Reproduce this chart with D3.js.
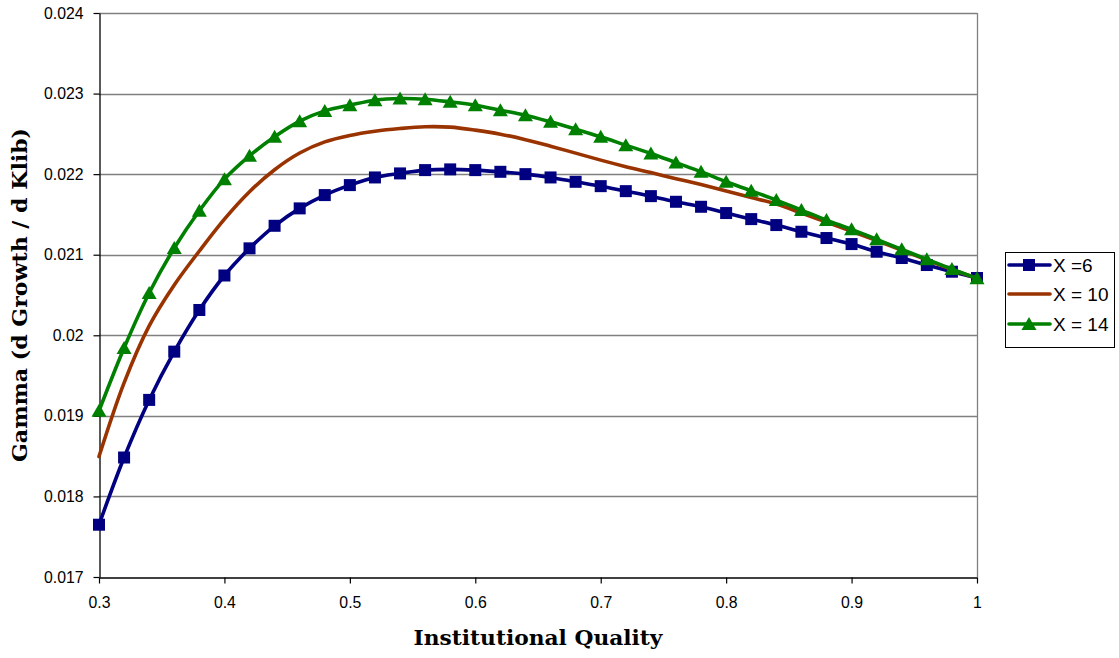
<!DOCTYPE html>
<html>
<head>
<meta charset="utf-8">
<script src="https://cdn.jsdelivr.net/npm/d3@7"></script>
<style>
  html, body { margin: 0; padding: 0; background: #fff; }
  svg { display: block; }
</style>
</head>
<body>
<svg id="chart" width="1119" height="658"></svg>
<script>
// ---- data ----
const quality = [0.30,0.32,0.34,0.36,0.38,0.40,0.42,0.44,0.46,0.48,0.50,0.52,0.54,0.56,0.58,0.60,0.62,0.64,0.66,0.68,0.70,0.72,0.74,0.76,0.78,0.80,0.82,0.84,0.86,0.88,0.90,0.92,0.94,0.96,0.98,1.00];
const gammaX6 = [0.017649,0.018483,0.019198,0.019797,0.020314,0.020742,0.021079,0.021359,0.021575,0.021740,0.021864,0.021959,0.022009,0.022050,0.022059,0.022050,0.022029,0.022000,0.021959,0.021905,0.021851,0.021789,0.021727,0.021657,0.021595,0.021517,0.021442,0.021368,0.021285,0.021207,0.021132,0.021037,0.020959,0.020872,0.020789,0.020711];
const gammaX10 = [0.018495,0.019409,0.020116,0.020624,0.021046,0.021442,0.021782,0.022055,0.022262,0.022400,0.022480,0.022532,0.022566,0.022588,0.022583,0.022546,0.022496,0.022428,0.022347,0.022261,0.022174,0.022093,0.022019,0.021944,0.021870,0.021792,0.021711,0.021628,0.021518,0.021404,0.021290,0.021176,0.021057,0.020936,0.020816,0.020707];
const gammaX14 = [0.019062,0.019843,0.020525,0.021083,0.021545,0.021938,0.022227,0.022463,0.022657,0.022785,0.022856,0.022918,0.022939,0.022930,0.022897,0.022856,0.022794,0.022732,0.022649,0.022558,0.022463,0.022360,0.022257,0.022143,0.022029,0.021905,0.021793,0.021678,0.021554,0.021430,0.021315,0.021191,0.021067,0.020943,0.020822,0.020707];
const seriesNames = ["X =6", "X = 10", "X = 14"];
const xTicks = [0.3,0.4,0.5,0.6,0.7,0.8,0.9,1];
const yTicks = [0.017,0.018,0.019,0.020,0.021,0.022,0.023,0.024];
const xTitle = "Institutional Quality";
const yTitle = "Gamma (d Growth / d Klib)";

// ---- layout ----
const svg = d3.select("#chart");
const L = 99, R = 977, T = 13, B = 577;
const x = d3.scaleLinear().domain([0.3, 1.0]).range([L, R]);
const y = d3.scaleLinear().domain([0.017, 0.024]).range([B, T]);

// gridlines
svg.append("g").selectAll("line").data(yTicks.filter(d => d > 0.017)).join("line")
  .attr("x1", L).attr("x2", R)
  .attr("y1", d => Math.round(y(d)) + 0.5).attr("y2", d => Math.round(y(d)) + 0.5)
  .attr("stroke", "#808080").attr("stroke-width", 1.3);
// right border
svg.append("line").attr("x1", R + 0.5).attr("x2", R + 0.5).attr("y1", T).attr("y2", B)
  .attr("stroke", "#808080").attr("stroke-width", 1.3);

// axes
const fmtY = d => d3.format(".3~f")(d);
const yAxis = svg.append("g").attr("transform", `translate(${L + 0.5},0)`)
  .call(d3.axisLeft(y).tickValues(yTicks).tickFormat(fmtY).tickSize(6).tickPadding(10).tickSizeOuter(0));
const xAxis = svg.append("g").attr("transform", `translate(0,${B + 0.5})`)
  .call(d3.axisBottom(x).tickValues(xTicks).tickFormat(d => d3.format("~g")(d)).tickSize(6).tickPadding(13).tickSizeOuter(0));
[yAxis, xAxis].forEach(g => {
  g.select(".domain").attr("stroke", "#000").attr("stroke-width", 1.3);
  g.selectAll(".tick line").attr("stroke", "#000").attr("stroke-width", 1.2);
  g.selectAll(".tick text").attr("fill", "#000")
    .style("font-family", "'Liberation Sans', Arial, sans-serif").style("font-size", "15.8px");
});

// series
const colors = ["#000080", "#993300", "#008000"];
const data = [gammaX6, gammaX10, gammaX14];
const line = d3.line().x((d, i) => x(quality[i])).y(d => y(d)).curve(d3.curveCatmullRom.alpha(0.5));
data.forEach((s, k) => {
  svg.append("path").datum(s).attr("d", line)
    .attr("fill", "none").attr("stroke", colors[k]).attr("stroke-width", 3.6)
    .attr("stroke-linejoin", "round").attr("stroke-linecap", "round");
  if (k === 0) {
    svg.append("g").selectAll("rect").data(s).join("rect")
      .attr("x", (d, i) => x(quality[i]) - 6).attr("y", d => y(d) - 6)
      .attr("width", 12).attr("height", 12).attr("fill", colors[k]);
  } else if (k === 2) {
    svg.append("g").selectAll("path").data(s).join("path")
      .attr("transform", (d, i) => `translate(${x(quality[i])},${y(d)})`)
      .attr("d", "M0,-7 L7.5,6 L-7.5,6 Z").attr("fill", colors[k]);
  }
});

// legend
const lg = svg.append("g");
lg.append("rect").attr("x", 1005.5).attr("y", 252.5).attr("width", 109).attr("height", 95)
  .attr("fill", "#fff").attr("stroke", "#000").attr("stroke-width", 1);
const ly = [265, 294, 324];
seriesNames.forEach((n, k) => {
  lg.append("line").attr("x1", 1009).attr("x2", 1050).attr("y1", ly[k]).attr("y2", ly[k])
    .attr("stroke", colors[k]).attr("stroke-width", 3.6).attr("stroke-linecap", "round");
  if (k === 0) lg.append("rect").attr("x", 1023).attr("y", ly[k] - 6).attr("width", 12).attr("height", 12).attr("fill", colors[k]);
  if (k === 2) lg.append("path").attr("transform", `translate(1029,${ly[k]})`).attr("d", "M0,-7 L7.5,6 L-7.5,6 Z").attr("fill", colors[k]);
  lg.append("text").attr("x", 1053).attr("y", ly[k]).attr("dy", "0.36em").text(n)
    .style("font-family", "'Liberation Sans', Arial, sans-serif").style("font-size", "19px");
});

// axis titles
const xt = svg.append("text").attr("x", (L + R) / 2).attr("y", 645).attr("text-anchor", "middle")
  .text(xTitle).style("font-family", "'DejaVu Serif', serif").style("font-weight", "bold").style("font-size", "20px");
const yt = svg.append("text").attr("transform", `translate(27,${(T + B) / 2}) rotate(-90)`).attr("text-anchor", "middle")
  .text(yTitle).style("font-family", "'DejaVu Serif', serif").style("font-weight", "bold").style("font-size", "20px");
xt.attr("textLength", 249).attr("lengthAdjust", "spacingAndGlyphs");
yt.attr("textLength", 334).attr("lengthAdjust", "spacingAndGlyphs");
</script>
</body>
</html>
